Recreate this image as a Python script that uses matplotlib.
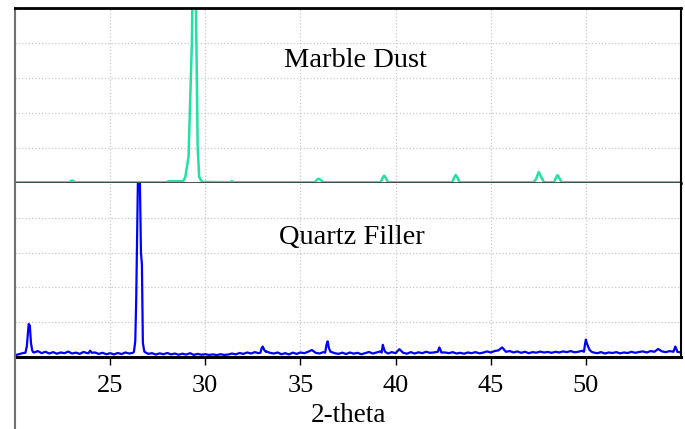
import numpy as np
import matplotlib.pyplot as plt
from matplotlib.lines import Line2D

# relative intensity, each panel runs 0..100

# Marble dust trace (vertices)
marble_theta = [20.0, 22.85, 22.95, 23.05, 23.15, 28.0, 28.05, 28.84, 28.95,
                29.12, 29.30, 29.36, 29.46, 29.53, 29.60, 29.68, 29.83, 30.2,
                31.3, 31.4, 31.5, 35.75, 35.88, 35.97, 36.06, 36.2, 39.22, 39.32,
                39.4, 39.48, 39.6, 42.98, 43.08, 43.16, 43.25, 43.36, 47.25, 47.38,
                47.52, 47.65, 47.8, 48.32, 48.42, 48.5, 48.6, 48.72, 55.0]
marble_int = [0.4, 0.4, 1.3, 1.3, 0.4, 0.4, 1.0, 1.0, 3.4,
              15.0, 82.0, 140.0, 140.0, 83.0, 20.0, 3.4, 0.6, 0.6,
              0.4, 1.0, 0.4, 0.4, 2.0, 2.4, 1.8, 0.4, 0.4, 3.0,
              4.2, 3.0, 0.4, 0.4, 3.0, 4.6, 3.2, 0.4, 0.4, 2.2,
              6.3, 3.5, 0.4, 0.4, 2.8, 4.5, 3.0, 0.4, 0.4]

# Quartz filler: noisy baseline every 0.2 deg from 20.0 to 55.0
quartz_base = [
    1.0, 1.6, 2.2, 2.8, 3.0, 2.6, 3.4, 2.2, 3.0, 2.0,
    2.8, 1.9, 2.6, 2.2, 3.1, 2.0, 2.5, 1.8, 2.9, 2.2,
    3.2, 2.6, 1.8, 2.4, 1.6, 2.2, 1.5, 2.3, 1.7, 2.6,
    2.0, 2.4, 2.2, 2.0, 2.6, 1.8, 2.2, 1.4, 2.1, 1.6,
    2.3, 1.5, 2.0, 1.3, 1.9, 1.4, 2.2, 1.2, 1.8, 1.3,
    1.6, 1.2, 1.5, 1.1, 1.6, 1.2, 1.4, 2.0, 1.5, 2.3,
    1.8, 2.6, 2.0, 2.8, 2.2, 3.0, 3.2, 2.4, 2.0, 2.6,
    1.6, 2.2, 1.5, 2.5, 1.8, 2.6, 2.2, 3.0, 4.0, 2.4,
    2.0, 2.8, 2.4, 3.0, 2.2, 1.8, 2.5, 1.7, 2.6, 1.9,
    2.4, 1.6, 2.2, 2.9, 2.0, 2.6, 3.2, 2.3, 2.0, 2.8,
    2.2, 4.5, 2.4, 1.9, 2.8, 2.0, 2.7, 2.2, 3.0, 2.4,
    2.6, 3.0, 2.6, 2.6, 2.2, 2.8, 2.0, 2.4, 1.9, 2.6,
    2.2, 2.8, 2.1, 2.5, 3.2, 2.6, 3.4, 3.8, 5.5, 3.0,
    3.4, 2.6, 3.2, 2.4, 3.0, 2.2, 2.8, 2.5, 3.1, 2.6,
    2.9, 2.4, 3.0, 2.6, 3.2, 2.8, 3.4, 2.7, 3.0, 3.6,
    3.0, 3.0, 2.6, 2.2, 2.8, 2.0, 2.6, 2.3, 2.8, 2.1,
    2.6, 2.3, 3.0, 2.4, 2.9, 3.2, 2.6, 3.4, 3.0, 4.6,
    3.2, 2.8, 3.4, 3.0, 3.0, 2.6,
]

# Quartz peaks (vertex lists)
quartz_peaks = [
    ([20.55, 20.62, 20.68, 20.72, 20.78, 20.84, 20.9, 20.95],
     [2.5, 6.0, 14.0, 19.0, 18.0, 8.0, 4.0, 2.8]),
    ([23.86, 23.95, 24.04], [2.2, 3.6, 2.4]),
    ([26.25, 26.32, 26.37, 26.42, 26.47, 26.55, 26.62, 26.67, 26.72, 26.8],
     [3.0, 9.0, 33.0, 70.0, 110.0, 110.0, 60.0, 53.0, 8.0, 3.0]),
    ([32.9, 32.96, 33.02, 33.1, 33.18], [2.5, 5.0, 6.0, 4.0, 3.0]),
    ([36.3, 36.37, 36.43, 36.5, 36.58], [2.5, 7.0, 9.0, 5.0, 3.0]),
    ([39.27, 39.33, 39.38, 39.45], [2.5, 7.0, 5.0, 3.0]),
    ([42.22, 42.3, 42.38], [3.0, 5.5, 3.5]),
    ([49.9, 49.95, 50.0, 50.05, 50.12, 50.2, 50.3],
     [3.0, 7.0, 10.0, 8.0, 6.0, 4.0, 3.0]),
    ([54.62, 54.7, 54.78], [3.5, 6.0, 4.0]),
]

xticks = [25, 30, 35, 40, 45, 50]

# merge baseline and peaks into one trace
base_theta = 20.0 + 0.2 * np.arange(len(quartz_base))
base_int = np.array(quartz_base)
keep = np.ones(len(base_theta), bool)
for th, _ in quartz_peaks:
    keep &= ~((base_theta >= th[0]) & (base_theta <= th[-1]))
q_theta = np.concatenate([base_theta[keep]] + [np.array(t) for t, _ in quartz_peaks])
q_int = np.concatenate([base_int[keep]] + [np.array(v) for _, v in quartz_peaks])
order = np.argsort(q_theta)
q_theta, q_int = q_theta[order], q_int[order]

plt.rcParams['font.family'] = ['Liberation Serif', 'DejaVu Serif']

W, H = 685, 429
fig = plt.figure(figsize=(W / 100, H / 100), dpi=100)
x0, x1 = 15, 681
ax_top = fig.add_axes([x0 / W, (H - 183) / H, (x1 - x0) / W, 175 / H])
ax_bot = fig.add_axes([x0 / W, (H - 357) / H, (x1 - x0) / W, 174 / H])

grid_kw = dict(color='#c8c8c8', linestyle=':', linewidth=0.9)

for ax in (ax_top, ax_bot):
    ax.set_xlim(20, 55)
    ax.set_ylim(0, 100)
    ax.set_xticks(xticks)
    ax.set_yticks([20, 40, 60, 80])
    ax.grid(True, **grid_kw)
    ax.set_axisbelow(True)
    ax.tick_params(axis='y', left=False, labelleft=False)
    ax.spines['left'].set_color('#707070')
    ax.spines['left'].set_linewidth(1.5)
    ax.spines['right'].set_color('black')
    ax.spines['right'].set_linewidth(1.5)

ax_top.plot(marble_theta, marble_int, color='#22e2a2', linewidth=1.8, zorder=2)
ax_top.tick_params(axis='x', bottom=False, labelbottom=False)
ax_top.spines['top'].set_linewidth(2)
ax_top.spines['bottom'].set_color('#404040')
ax_top.spines['bottom'].set_linewidth(2)
ax_top.spines['bottom'].set_zorder(5)
ax_top.text(37.9, 70, 'Marble Dust', ha='center', va='center', fontsize=20.5)

ax_bot.plot(q_theta, q_int, color='#0000ff', linewidth=1.6, zorder=2)
ax_bot.spines['top'].set_visible(False)
ax_bot.spines['bottom'].set_linewidth(2.2)
ax_bot.tick_params(axis='x', direction='out', length=6, width=1, pad=7, labelsize=19)
ax_bot.set_xlabel('2-theta', fontsize=19.5, labelpad=4)
ax_bot.text(37.7, 68.5, 'Quartz Filler', ha='center', va='center', fontsize=20.5)

# left border runs on down to the bottom edge
fig.add_artist(Line2D([x0 / W, x0 / W], [0, (H - 357) / H], color='#707070',
                      linewidth=1.5, transform=fig.transFigure))

fig.savefig('out.png', dpi=100)
